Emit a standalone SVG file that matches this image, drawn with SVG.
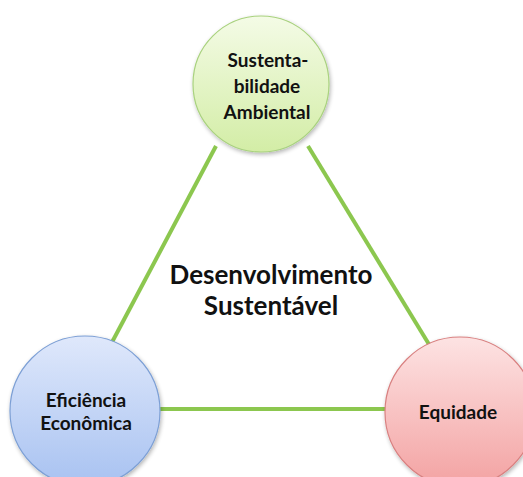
<svg xmlns="http://www.w3.org/2000/svg" width="523" height="477" viewBox="0 0 523 477">
<defs>
<linearGradient id="gG" x1="0" y1="0" x2="0" y2="1"><stop offset="0" stop-color="#f4fbe6"/><stop offset="1" stop-color="#d3eda6"/></linearGradient>
<linearGradient id="gB" x1="0" y1="0" x2="0" y2="1"><stop offset="0" stop-color="#dfe8fb"/><stop offset="1" stop-color="#a8c2f1"/></linearGradient>
<linearGradient id="gR" x1="0" y1="0" x2="0" y2="1"><stop offset="0" stop-color="#fde3e3"/><stop offset="1" stop-color="#f3a2a2"/></linearGradient>
<filter id="sh" x="-20%" y="-20%" width="140%" height="140%"><feGaussianBlur in="SourceAlpha" stdDeviation="2"/><feOffset dx="1" dy="2"/><feComponentTransfer><feFuncA type="linear" slope="0.3"/></feComponentTransfer><feMerge><feMergeNode/><feMergeNode in="SourceGraphic"/></feMerge></filter>
</defs>
<style>
.con{stroke:#8cc74f;stroke-width:4;fill:none}
.lbl{font-family:Lato,"Open Sans","Liberation Sans",sans-serif;font-weight:bold;fill:#111;text-anchor:middle}
.n{font-size:19px}
.c{font-size:26px}
</style>
<rect width="523" height="477" fill="#fff"/>
<g id="connectors">
<line class="con" x1="216" y1="146" x2="110" y2="346"/>
<line class="con" x1="308" y1="146" x2="430" y2="346"/>
<line class="con" x1="158" y1="409" x2="386" y2="409"/>
</g>
<g id="center">
<text class="lbl c" x="271" y="284">Desenvolvimento</text>
<text class="lbl c" x="271" y="315">Sustentável</text>
</g>
<g id="node-ambiental">
<circle cx="261" cy="84" r="68" fill="url(#gG)" stroke="#a9d27e" stroke-width="1.2" filter="url(#sh)"/>
<text class="lbl n" x="268" y="67">Sustenta-</text>
<text class="lbl n" x="267" y="93">bilidade</text>
<text class="lbl n" x="267" y="119">Ambiental</text>
</g>
<g id="node-economica">
<circle cx="85" cy="411" r="75" fill="url(#gB)" stroke="#7c9fd5" stroke-width="1.2" filter="url(#sh)"/>
<text class="lbl n" x="86" y="407">Eficiência</text>
<text class="lbl n" x="86" y="430">Econômica</text>
</g>
<g id="node-equidade">
<circle cx="460" cy="412" r="75" fill="url(#gR)" stroke="#d98080" stroke-width="1.2" filter="url(#sh)"/>
<text class="lbl n" x="458" y="419">Equidade</text>
</g>
</svg>
